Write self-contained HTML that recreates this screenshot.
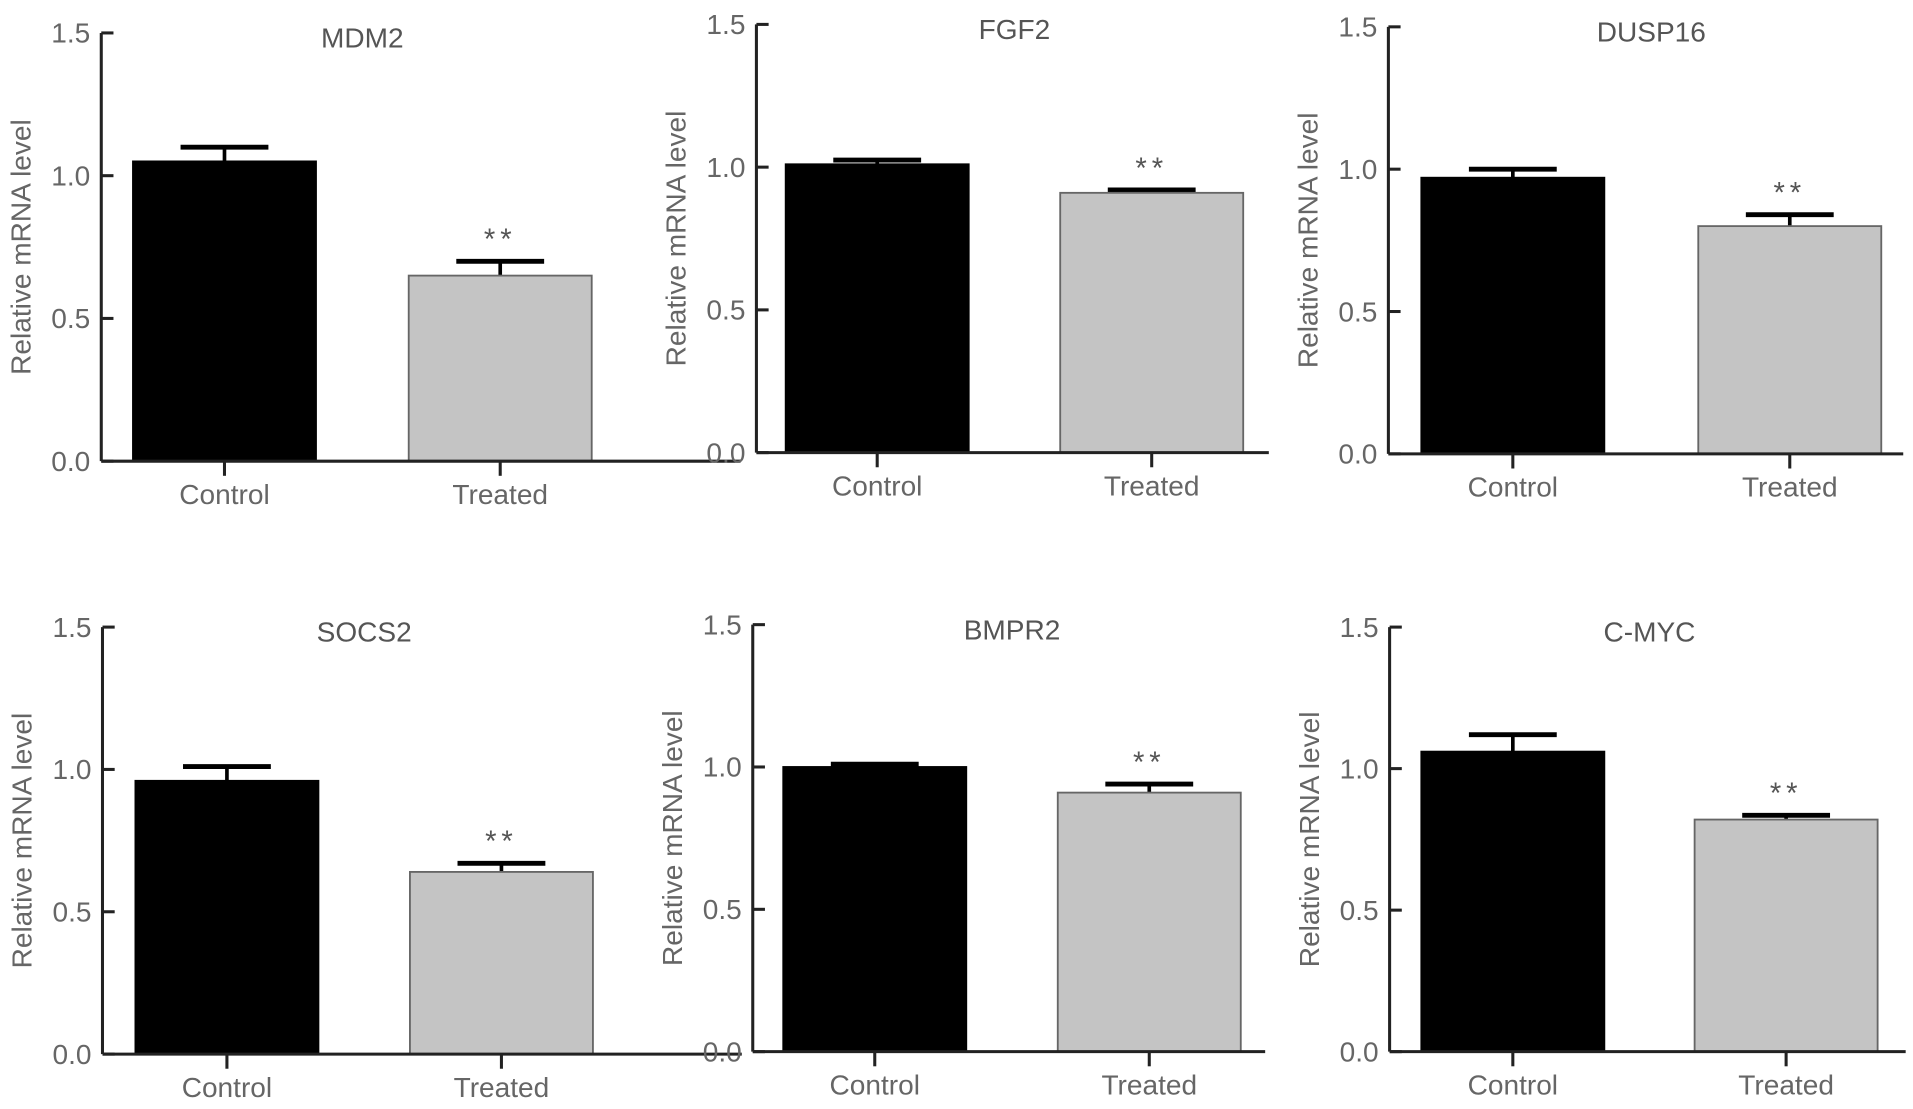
<!DOCTYPE html>
<html><head><meta charset="utf-8"><style>
html,body{margin:0;padding:0;background:#fff;}
svg{display:block;}
text{font-family:"Liberation Sans",sans-serif;}
</style></head><body>
<svg id="fig" width="1913" height="1109" viewBox="0 0 1568 909" xmlns="http://www.w3.org/2000/svg"></svg>
<script>
const genes = ["MDM2","FGF2","DUSP16","SOCS2","BMPR2","C-MYC"];
const categories = ["Control","Treated"];
const controlMeans = [1.05,1.01,0.97,0.96,1.00,1.06];
const controlErr = [0.05,0.015,0.03,0.05,0.01,0.06];
const treatedMeans = [0.65,0.91,0.80,0.64,0.91,0.82];
const treatedErr = [0.05,0.01,0.04,0.03,0.03,0.015];
const yTicks = [0,0.5,1.0,1.5];
const yTickLabels = ["0.0","0.5","1.0","1.5"];

const layout = [
  {ax:83,top:27,bot:378,right:607,b:[109,335]},
  {ax:620,top:20,bot:371,right:1040,b:[644,869]},
  {ax:1138,top:22,bot:372,right:1560,b:[1165,1392]},
  {ax:84,top:514,bot:864,right:608,b:[111,336]},
  {ax:617,top:512,bot:862,right:1037,b:[642,867]},
  {ax:1139,top:514,bot:862,right:1562,b:[1165,1389]}
];
const BW=150;
const NS="http://www.w3.org/2000/svg";
const svg=document.getElementById('fig');
function mk(tag,attrs,parent){const e=document.createElementNS(NS,tag);for(const k in attrs)e.setAttribute(k,attrs[k]);(parent||svg).appendChild(e);return e;}

genes.forEach((g,i)=>{
  const L=layout[i];
  const y=v=>L.bot-(v/1.5)*(L.bot-L.top);
  const grp=mk('g',{});
  
  
  const vals=[controlMeans[i],treatedMeans[i]];
  const errs=[controlErr[i],treatedErr[i]];
  vals.forEach((v,j)=>{
    const x=L.b[j];
    const cx=x+BW/2;
    const eb=mk('line',{x1:cx,x2:cx,y1:y(v),y2:y(v+errs[j]),stroke:'#000','stroke-width':3},grp);
    
    
    const cap=mk('line',{x1:cx-36,x2:cx+36,y1:y(v+errs[j]),y2:y(v+errs[j]),stroke:'#000','stroke-width':4},grp);
    
    
    const r=mk('rect',{x:x,y:y(v),width:BW,height:y(0)-y(v),fill:j==0?'#000':'#c4c4c4',stroke:j==0?'#000':'#666','stroke-width':1.5},grp);
    
    
    const tk=mk('line',{x1:cx,x2:cx,y1:L.bot,y2:L.bot+12,stroke:'#222','stroke-width':2.5},grp);
    
    
    const lb=mk('text',{x:cx,y:L.bot+35,'text-anchor':'middle','font-size':23,fill:'#666'},grp);
    lb.textContent=categories[j];
    
    
    if(j==1){
      const st=mk('text',{x:cx,y:y(v+errs[j])-10,'text-anchor':'middle','font-size':24,fill:'#555','letter-spacing':'4'},grp);
      st.textContent='**';
      
      
    }
  });
  const ya=mk('line',{x1:L.ax,x2:L.ax,y1:L.top,y2:L.bot,stroke:'#222','stroke-width':2.5},grp);
  
  
  const xa=mk('line',{x1:L.ax,x2:L.right,y1:L.bot,y2:L.bot,stroke:'#222','stroke-width':2.5},grp);
  
  
  yTicks.forEach((t,k)=>{
    const tl=mk('line',{x1:L.ax,x2:L.ax+10,y1:y(t),y2:y(t),stroke:'#222','stroke-width':2.5},grp);
    
    
    const tt=mk('text',{x:L.ax-9,y:y(t)+8,'text-anchor':'end','font-size':23,fill:'#666'},grp);
    tt.textContent=yTickLabels[k];
    
    
  });
  const mid=(L.top+L.bot)/2;
  const yl=mk('text',{x:0,y:0,'text-anchor':'middle','font-size':23,fill:'#666',transform:`translate(${L.ax-58},${mid}) rotate(-90)`},grp);
  yl.textContent='Relative mRNA level';
  
  
  const ti=mk('text',{x:(L.b[0]+L.b[1]+BW)/2,y:L.top+12,'text-anchor':'middle','font-size':23,fill:'#555'},grp);
  ti.textContent=g;
  
  
});
</script>
</body></html>
